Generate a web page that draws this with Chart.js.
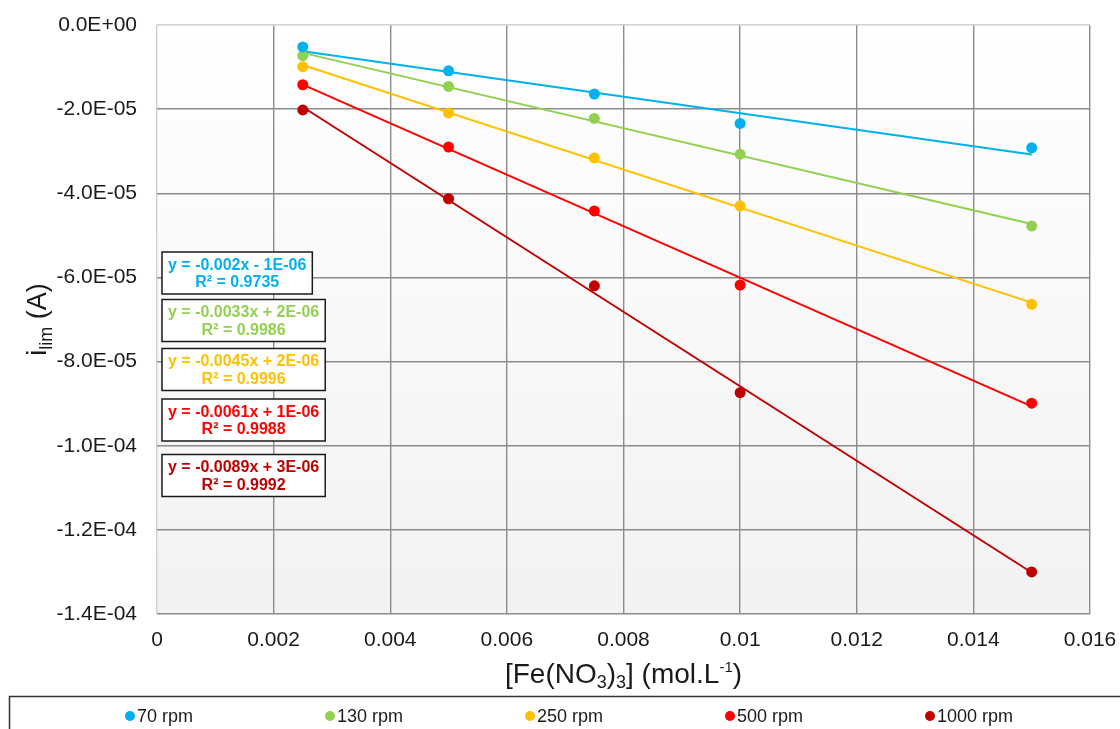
<!DOCTYPE html>
<html>
<head>
<meta charset="utf-8">
<script src="https://cdn.jsdelivr.net/npm/chart.js@4.4.1/dist/chart.umd.min.js"></script>
<style>
    html, body { margin: 0; padding: 0; background: #ffffff; }
    #wrap { width: 1120px; height: 729px; }
</style>
</head>
<body>
<div id="wrap"><canvas id="ilimChart" width="1120" height="729"></canvas></div>
<script>
// [Fe(NO3)3] concentrations (mol/L)
var concentrations = [0.0025, 0.005, 0.0075, 0.01, 0.015];

var seriesNames = ["70 rpm", "130 rpm", "250 rpm", "500 rpm", "1000 rpm"];
var seriesColors = ["#00B0F0", "#92D050", "#FFC000", "#FF0000", "#C00000"];

// limiting current (A)
var rpm70 = [-5.2e-6, -1.09e-5, -1.64e-5, -2.34e-5, -2.92e-5];
var rpm130 = [-7.3e-6, -1.46e-5, -2.22e-5, -3.07e-5, -4.78e-5];
var rpm250 = [-9.9e-6, -2.09e-5, -3.16e-5, -4.30e-5, -6.64e-5];
var rpm500 = [-1.42e-5, -2.90e-5, -4.42e-5, -6.18e-5, -8.99e-5];
var rpm1000 = [-2.02e-5, -4.13e-5, -6.20e-5, -8.74e-5, -1.30e-4];
var seriesValues = [rpm70, rpm130, rpm250, rpm500, rpm1000];

// trendline labels as printed on the chart
var equationTexts = ["y = -0.002x - 1E-06", "y = -0.0033x + 2E-06", "y = -0.0045x + 2E-06", "y = -0.0061x + 1E-06", "y = -0.0089x + 3E-06"];
var r2Texts = ["R\u00b2 = 0.9735", "R\u00b2 = 0.9986", "R\u00b2 = 0.9996", "R\u00b2 = 0.9988", "R\u00b2 = 0.9992"];

var xTicks = [0, 0.002, 0.004, 0.006, 0.008, 0.01, 0.012, 0.014, 0.016];
var yTicks = [0, -2e-5, -4e-5, -6e-5, -8e-5, -1e-4, -1.2e-4, -1.4e-4];

var FONT = "'Liberation Sans', Arial, sans-serif";

function linReg(xs, ys) {
    var n = xs.length, mx = 0, my = 0, sxy = 0, sxx = 0;
    for (var i = 0; i < n; i++) { mx += xs[i]; my += ys[i]; }
    mx /= n; my /= n;
    for (var j = 0; j < n; j++) {
        sxy += (xs[j] - mx) * (ys[j] - my);
        sxx += (xs[j] - mx) * (xs[j] - mx);
    }
    var a = sxy / sxx;
    return { a: a, b: my - a * mx };
}

function sciLabel(v) {
    if (Math.abs(v) < 1e-12) return "0.0E+00";
    var parts = v.toExponential(1).split("e");
    var e = parseInt(parts[1], 10);
    var es = (e < 0 ? "-" : "+") + (Math.abs(e) < 10 ? "0" : "") + Math.abs(e);
    return parts[0] + "E" + es;
}

function drawRich(ctx, parts, cx, baseY) {
    var total = 0;
    parts.forEach(function (p) {
        ctx.font = p.size + "px " + FONT;
        p.w = ctx.measureText(p.t).width;
        total += p.w;
    });
    var x = cx - total / 2;
    ctx.textAlign = "left";
    ctx.textBaseline = "alphabetic";
    parts.forEach(function (p) {
        ctx.font = p.size + "px " + FONT;
        ctx.fillText(p.t, x, baseY + (p.dy || 0));
        x += p.w;
    });
}

var datasets = [];
seriesValues.forEach(function (vals, i) {
    datasets.push({
        type: "scatter",
        label: seriesNames[i],
        data: concentrations.map(function (c, k) { return { x: c, y: vals[k] }; }),
        backgroundColor: seriesColors[i],
        borderColor: seriesColors[i],
        borderWidth: 0,
        pointRadius: 5.5,
        order: 0
    });
});
seriesValues.forEach(function (vals, i) {
    var fit = linReg(concentrations, vals);
    var x0 = concentrations[0], x1 = concentrations[concentrations.length - 1];
    datasets.push({
        type: "line",
        label: seriesNames[i] + " fit",
        data: [{ x: x0, y: fit.a * x0 + fit.b }, { x: x1, y: fit.a * x1 + fit.b }],
        borderColor: seriesColors[i],
        borderWidth: 2,
        pointRadius: 0,
        fill: false,
        order: 1
    });
});

var plotDecor = {
    id: "plotDecor",
    beforeDraw: function (chart) {
        var ctx = chart.ctx, a = chart.chartArea;
        var g = ctx.createLinearGradient(0, a.top, 0, a.bottom);
        g.addColorStop(0, "#ffffff");
        g.addColorStop(1, "#f2f2f2");
        ctx.save();
        ctx.fillStyle = g;
        ctx.fillRect(a.left, a.top, a.right - a.left, a.bottom - a.top);
        ctx.restore();
    },
    afterDraw: function (chart) {
        var ctx = chart.ctx, a = chart.chartArea;
        ctx.save();

        // trendline equation boxes
        var boxTops = [252, 299.5, 348.5, 399, 454.5];
        ctx.font = "bold 16px " + FONT;
        equationTexts.forEach(function (t, i) {
            var w = Math.max(ctx.measureText(t).width, ctx.measureText(r2Texts[i]).width) + 12;
            var bx = a.left + 5, by = boxTops[i], bh = 42;
            ctx.fillStyle = "#ffffff";
            ctx.fillRect(bx, by, w, bh);
            ctx.strokeStyle = "#1a1a1a";
            ctx.lineWidth = 1.5;
            ctx.strokeRect(bx, by, w, bh);
            ctx.fillStyle = seriesColors[i];
            ctx.textAlign = "center";
            ctx.textBaseline = "middle";
            ctx.fillText(t, bx + w / 2, by + 13.5);
            ctx.fillText(r2Texts[i], bx + w / 2, by + 31);
        });

        // axis titles
        ctx.fillStyle = "#1a1a1a";
        drawRich(ctx, [
            { t: "[Fe(NO", size: 28 },
            { t: "3", size: 18, dy: 5 },
            { t: ")", size: 28 },
            { t: "3", size: 18, dy: 5 },
            { t: "] (mol.L", size: 28 },
            { t: "-1", size: 15, dy: -11 },
            { t: ")", size: 28 }
        ], (a.left + a.right) / 2, 683);

        ctx.save();
        ctx.translate(46, (a.top + a.bottom) / 2);
        ctx.rotate(-Math.PI / 2);
        drawRich(ctx, [
            { t: "i", size: 27 },
            { t: "lim", size: 18, dy: 6 },
            { t: " (A)", size: 27 }
        ], 0, 0);
        ctx.restore();

        // legend
        ctx.strokeStyle = "#333333";
        ctx.lineWidth = 1.5;
        ctx.strokeRect(9.5, 696.5, 1130, 60);
        ctx.font = "18px " + FONT;
        ctx.textAlign = "left";
        ctx.textBaseline = "middle";
        seriesNames.forEach(function (name, i) {
            var mx = 130 + i * 200, my = 716;
            ctx.fillStyle = seriesColors[i];
            ctx.beginPath();
            ctx.arc(mx, my, 5, 0, Math.PI * 2);
            ctx.fill();
            ctx.fillStyle = "#1a1a1a";
            ctx.fillText(name, mx + 7, my + 1);
        });
        ctx.restore();
    }
};

function gridColor(c) {
    if (c.tick && Math.abs(c.tick.value) < 1e-12) return "#d0d0d0";
    return "#8c8c8c";
}

new Chart(document.getElementById("ilimChart").getContext("2d"), {
    data: { datasets: datasets },
    options: {
        responsive: false,
        animation: false,
        devicePixelRatio: 1,
        layout: { padding: { top: 25, right: 30, left: 0, bottom: 0 } },
        plugins: {
            legend: { display: false },
            tooltip: { enabled: false }
        },
        scales: {
            x: {
                type: "linear",
                min: 0,
                max: 0.016,
                afterBuildTicks: function (s) { s.ticks = xTicks.map(function (v) { return { value: v }; }); },
                afterFit: function (s) { s.height = 115; s.paddingLeft = 0; s.paddingRight = 0; },
                grid: { color: gridColor, lineWidth: 1.4, drawTicks: false },
                border: { display: false },
                ticks: {
                    padding: 14,
                    color: "#1a1a1a",
                    font: { family: FONT, size: 21 },
                    maxRotation: 0,
                    callback: function (v) { return String(parseFloat(Number(v).toFixed(4))); }
                }
            },
            y: {
                type: "linear",
                min: -1.4e-4,
                max: 0,
                afterBuildTicks: function (s) { s.ticks = yTicks.map(function (v) { return { value: v }; }); },
                afterFit: function (s) { s.width = 157; s.paddingTop = 0; s.paddingBottom = 0; },
                grid: { color: gridColor, lineWidth: 1.4, drawTicks: false },
                border: { display: false },
                ticks: {
                    padding: 20,
                    color: "#1a1a1a",
                    font: { family: FONT, size: 21 },
                    callback: function (v) { return sciLabel(v); }
                }
            }
        }
    },
    plugins: [plotDecor]
});
</script>
</body>
</html>
